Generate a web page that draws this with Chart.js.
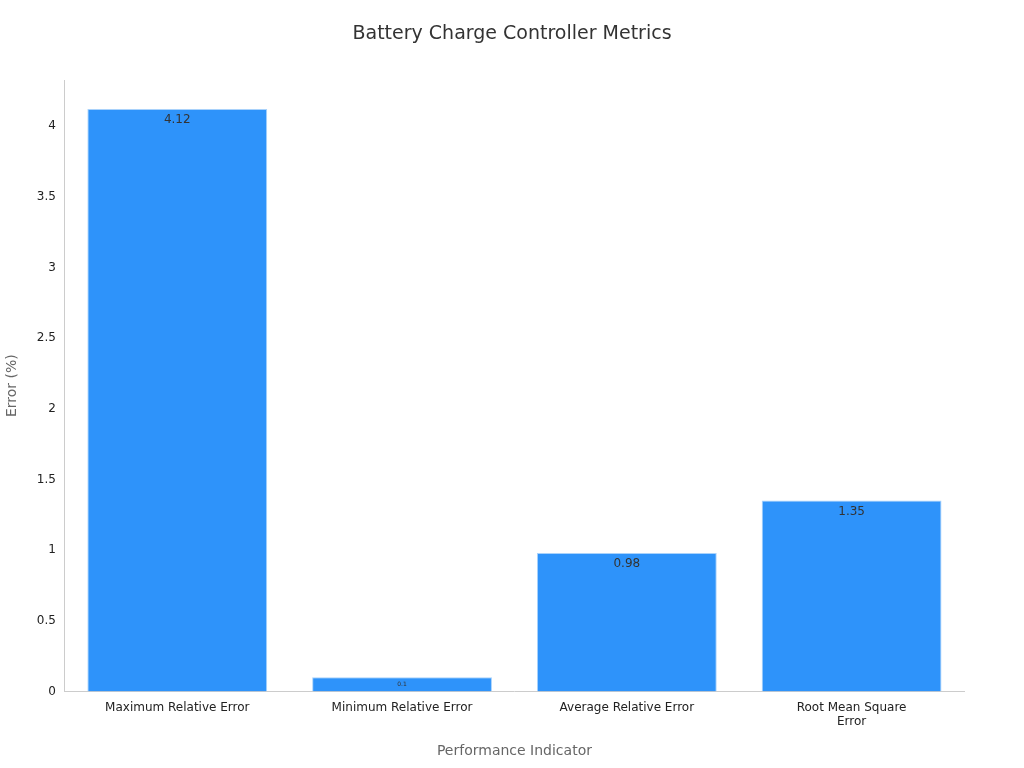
<!DOCTYPE html>
<html>
<head>
<meta charset="utf-8">
<script src="https://cdn.jsdelivr.net/npm/chart.js@4/dist/chart.umd.min.js"></script>
<style>
  html, body { margin: 0; padding: 0; background: #fff; }
  #wrap { width: 1024px; height: 768px; }
</style>
</head>
<body>
<div id="wrap"><canvas id="chart"></canvas></div>
<script>
const chartTitle = "Battery Charge Controller Metrics";
const categories = [
  "Maximum Relative Error",
  "Minimum Relative Error",
  "Average Relative Error",
  ["Root Mean Square", "Error"]
];
const errorValues = [4.12, 0.1, 0.98, 1.35];
const yTicks = [0, 0.5, 1, 1.5, 2, 2.5, 3, 3.5, 4];

// value labels at top inside each bar, plus title centred on the page
const barLabels = {
  id: "barLabels",
  afterDatasetsDraw(chart) {
    const ctx = chart.ctx;
    const meta = chart.getDatasetMeta(0);
    ctx.save();
    ctx.fillStyle = "#333";
    ctx.textAlign = "center";
    ctx.textBaseline = "top";
    meta.data.forEach((bar, i) => {
      const v = errorValues[i];
      const small = (bar.base - bar.y) < 20;
      ctx.font = (small ? "6px" : "12px") + " 'DejaVu Sans'";
      ctx.fillText(String(v), bar.x, bar.y + (small ? 4 : 5));
    });
    ctx.font = "19px 'DejaVu Sans'";
    ctx.textBaseline = "middle";
    ctx.fillText(chartTitle, chart.width / 2, 34);
    ctx.restore();
  }
};

new Chart(document.getElementById("chart"), {
  type: "bar",
  data: {
    labels: categories,
    datasets: [{
      label: "Error (%)",
      data: errorValues,
      backgroundColor: "#2E93FA",
      borderColor: "#a9d2fb",
      borderWidth: 1,
      categoryPercentage: 0.8,
      barPercentage: 1.0
    }]
  },
  options: {
    responsive: true,
    maintainAspectRatio: false,
    animation: false,
    layout: { padding: { left: 0, right: 60, top: 80, bottom: 4 } },
    plugins: {
      legend: { display: false },
      tooltip: { enabled: false },
      title: { display: false }
    },
    scales: {
      x: {
        grid: { display: false, drawTicks: true, tickLength: 5, color: "#ccc" },
        border: { color: "#ccc" },
        ticks: { color: "#222", font: { family: "'DejaVu Sans'", size: 12 }, maxRotation: 0, padding: 4 },
        title: {
          display: true, text: "Performance Indicator", color: "#666",
          font: { family: "'DejaVu Sans'", size: 14 }, padding: { top: 10 }
        }
      },
      y: {
        min: 0,
        max: 4.326,
        grid: { display: false, drawTicks: true, tickLength: 5 },
        border: { color: "#ccc" },
        afterBuildTicks(scale) {
          scale.ticks = yTicks.map(v => ({ value: v }));
        },
        ticks: {
          color: "#222",
          font: { family: "'DejaVu Sans'", size: 12 },
          padding: 4,
          callback: v => String(v)
        },
        title: {
          display: true, text: "Error (%)", color: "#666",
          font: { family: "'DejaVu Sans'", size: 14 }, padding: { bottom: 12 }
        }
      }
    }
  },
  plugins: [barLabels]
});
</script>
</body>
</html>
